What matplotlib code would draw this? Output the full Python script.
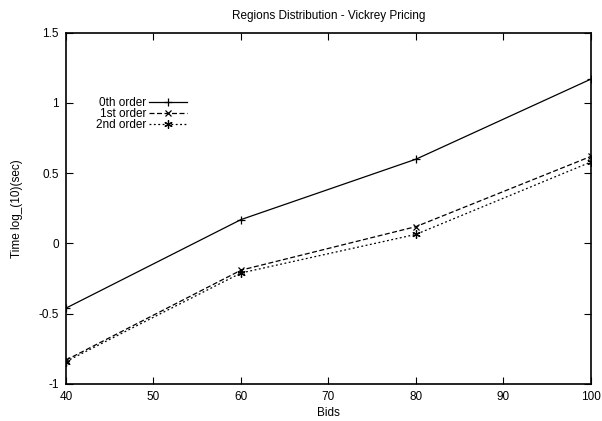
import matplotlib
matplotlib.use('Agg')
import matplotlib.pyplot as plt

plt.rcParams['font.family'] = ['Liberation Sans', 'DejaVu Sans']
plt.rcParams['font.size'] = 8.5

# data
bids = [40, 60, 80, 100]
order0 = [-0.46, 0.17, 0.60, 1.17]
order1 = [-0.83, -0.19, 0.12, 0.62]
order2 = [-0.84, -0.21, 0.065, 0.58]
labels = ['0th order', '1st order', '2nd order']

fig = plt.figure(figsize=(6.02, 4.21), dpi=100)
ax = fig.add_axes([0.1096, 0.0879, 0.8721, 0.8344])

ax.plot(bids, order0, color='black', lw=0.9, ls='-', marker='+', ms=6, mew=0.9, label=labels[0])
ax.plot(bids, order1, color='black', lw=0.9, ls=(0, (4, 2)), marker='x', ms=5, mew=0.9, label=labels[1])
ax.plot(bids, order2, color='black', lw=0.9, ls=(0, (1.5, 2)), marker=(6, 2, 0), ms=6, mew=0.9, label=labels[2])

ax.set_xlim(40, 100)
ax.set_ylim(-1, 1.5)
ax.set_xticks([40, 50, 60, 70, 80, 90, 100])
ax.set_yticks([-1, -0.5, 0, 0.5, 1, 1.5])
ax.set_yticklabels(['-1', '-0.5', '0', '0.5', '1', '1.5'])
ax.tick_params(direction='in', top=True, right=True, length=5, width=0.8, pad=5)
for s in ax.spines.values():
    s.set_linewidth(1.2)

ax.set_title('Regions Distribution - Vickrey Pricing', fontsize=8.5, pad=10)
ax.set_xlabel('Bids', labelpad=3)
ax.set_ylabel('Time log_(10)(sec)', labelpad=11)

ax.legend(loc='upper right', bbox_to_anchor=(0.2305, 0.818), frameon=False, markerfirst=False,
          borderpad=0, borderaxespad=0, handlelength=3.2, handletextpad=0.25,
          labelspacing=-0.05, fontsize=8.5)

fig.savefig('out.png', dpi=100)
